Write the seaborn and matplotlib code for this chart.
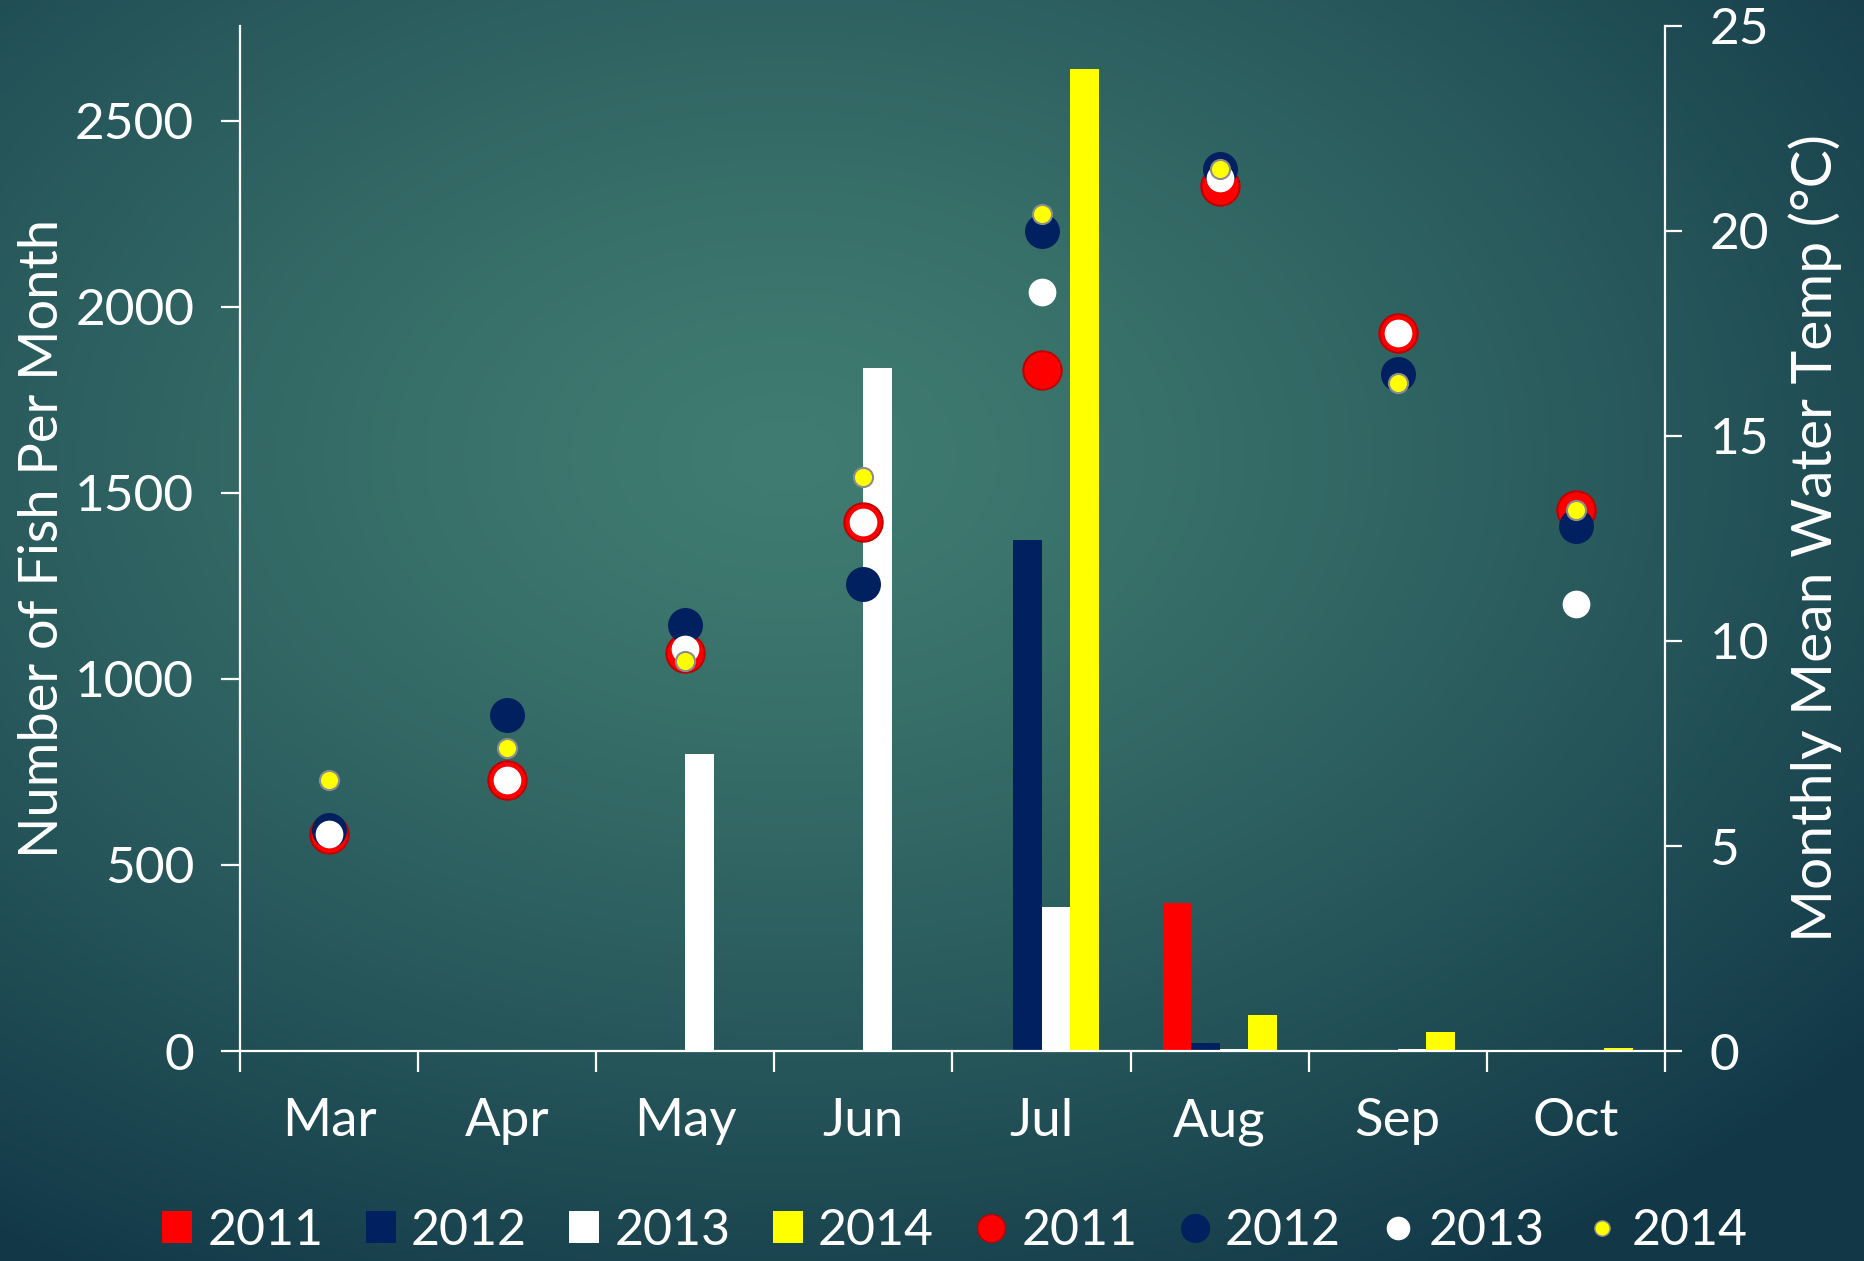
import numpy as np
import pandas as pd
import matplotlib
matplotlib.use("Agg")
import matplotlib.pyplot as plt
from matplotlib.patches import Patch
from matplotlib.lines import Line2D
import seaborn as sns

# ---- data -------------------------------------------------------------
months = ["Mar", "Apr", "May", "Jun", "Jul", "Aug", "Sep", "Oct"]
years = ["2011", "2012", "2013", "2014"]

fish_2011 = [0, 0, 4, 0, 0, 399, 3, 0]
fish_2012 = [0, 0, 0, 0, 1373, 22, 0, 0]
fish_2013 = [0, 0, 798, 1836, 386, 6, 6, 0]
fish_2014 = [0, 0, 0, 0, 2640, 96, 51, 8]

temp_2011 = [5.3, 6.6, 9.7, 12.9, 16.6, 21.1, 17.5, 13.2]
temp_2012 = [5.4, 8.2, 10.4, 11.4, 20.0, 21.5, 16.5, 12.8]
temp_2013 = [5.3, 6.6, 9.8, 12.9, 18.5, 21.3, 17.5, 10.9]
temp_2014 = [6.6, 7.4, 9.5, 14.0, 20.4, 21.5, 16.3, 13.2]

colors = {"2011": "#FF0000", "2012": "#002060", "2013": "#FFFFFF", "2014": "#FFFF00"}

fish = pd.DataFrame({
    "month": np.tile(months, 4),
    "year": np.repeat(years, len(months)),
    "fish": fish_2011 + fish_2012 + fish_2013 + fish_2014,
})
temps = {"2011": temp_2011, "2012": temp_2012, "2013": temp_2013, "2014": temp_2014}

# ---- figure -----------------------------------------------------------
sns.set_theme(style="white")
plt.rcParams["font.family"] = ["Lato", "DejaVu Sans"]
fg = "white"

fig = plt.figure(figsize=(18.65, 12.61), dpi=100)

# teal radial-gradient backdrop
bg = fig.add_axes([0, 0, 1, 1], zorder=-10)
h, w = 400, 600
yy, xx = np.mgrid[0:h, 0:w]
cx, cy = 0.42 * w, 0.36 * h
r = np.sqrt(((xx - cx) / w) ** 2 + ((yy - cy) / h) ** 2)
t = np.clip(r / 0.75, 0, 1) ** 1.3
inner = np.array([64, 124, 113]) / 255
outer = np.array([18, 56, 72]) / 255
img = inner[None, None, :] * (1 - t[..., None]) + outer[None, None, :] * t[..., None]
bg.imshow(img, aspect="auto", extent=[0, 1, 0, 1], interpolation="bilinear")
bg.axis("off")

ax = fig.add_axes([0.1287, 0.1665, 0.764, 0.813])
ax.patch.set_alpha(0)

sns.barplot(data=fish, x="month", y="fish", hue="year", order=months,
            hue_order=years, palette=colors, width=0.64, gap=0,
            saturation=1, linewidth=0, legend=False, ax=ax)

ax.set_xlim(-0.5, 7.5)
ax.set_ylim(0, 2755)
ax.set_yticks([0, 500, 1000, 1500, 2000, 2500])
ax.set_xlabel("")
ax.set_ylabel("Number of Fish Per Month", color=fg, fontsize=39, labelpad=6)

ax2 = ax.twinx()
ax2.patch.set_alpha(0)
msize = {"2011": 760, "2012": 560, "2013": 340, "2014": 190}
edge = {"2011": "#C00000", "2012": "#002060", "2013": "#FFFFFF", "2014": "#8C8C8C"}
for yr in years:
    sns.scatterplot(x=np.arange(len(months)), y=temps[yr], color=colors[yr],
                    s=msize[yr], edgecolor=edge[yr], linewidth=1.5,
                    zorder=3, legend=False, ax=ax2)
ax2.set_ylim(0, 25)
ax2.set_yticks([0, 5, 10, 15, 20, 25])
ax2.set_ylabel("Monthly Mean Water Temp (°C)", color=fg, fontsize=41,
               labelpad=14)

# axes styling
for a in (ax, ax2):
    for s in a.spines.values():
        s.set_visible(False)
ax.spines["left"].set_visible(True)
ax.spines["bottom"].set_visible(True)
ax2.spines["right"].set_visible(True)
for s in (ax.spines["left"], ax.spines["bottom"], ax2.spines["right"]):
    s.set_color(fg)
    s.set_linewidth(1.6)

ax.tick_params(axis="y", colors=fg, labelsize=37, length=14, width=1.6,
               direction="out", left=True, pad=19)
ax2.tick_params(axis="y", colors=fg, labelsize=37, length=12, width=1.6,
                direction="out", right=True, pad=20)
ax.set_xticks(range(len(months)))
ax.set_xticklabels(months)
ax.set_xticks(np.arange(-0.5, 8, 1), minor=True)
ax.tick_params(axis="x", which="major", colors=fg, labelsize=38, length=0,
               pad=34)
ax.tick_params(axis="x", which="minor", color=fg, length=15, width=1.6,
               direction="out", bottom=True)
ax.grid(False)
ax2.grid(False)

# combined legend along the bottom
handles = [Patch(facecolor=colors[y], edgecolor="none") for y in years]
lsz = {"2011": 20, "2012": 20, "2013": 16, "2014": 11}
handles += [Line2D([], [], linestyle="none", marker="o", markersize=lsz[y],
                   markerfacecolor=colors[y], markeredgecolor=edge[y])
            for y in years]
leg = fig.legend(handles, years + years, loc="center", ncol=8,
                 bbox_to_anchor=(0.512, 0.024), frameon=False, fontsize=36,
                 handlelength=0.6, handleheight=0.6, handletextpad=0.3,
                 columnspacing=0.85, labelcolor=fg)

fig.savefig("out.png", dpi=100)
